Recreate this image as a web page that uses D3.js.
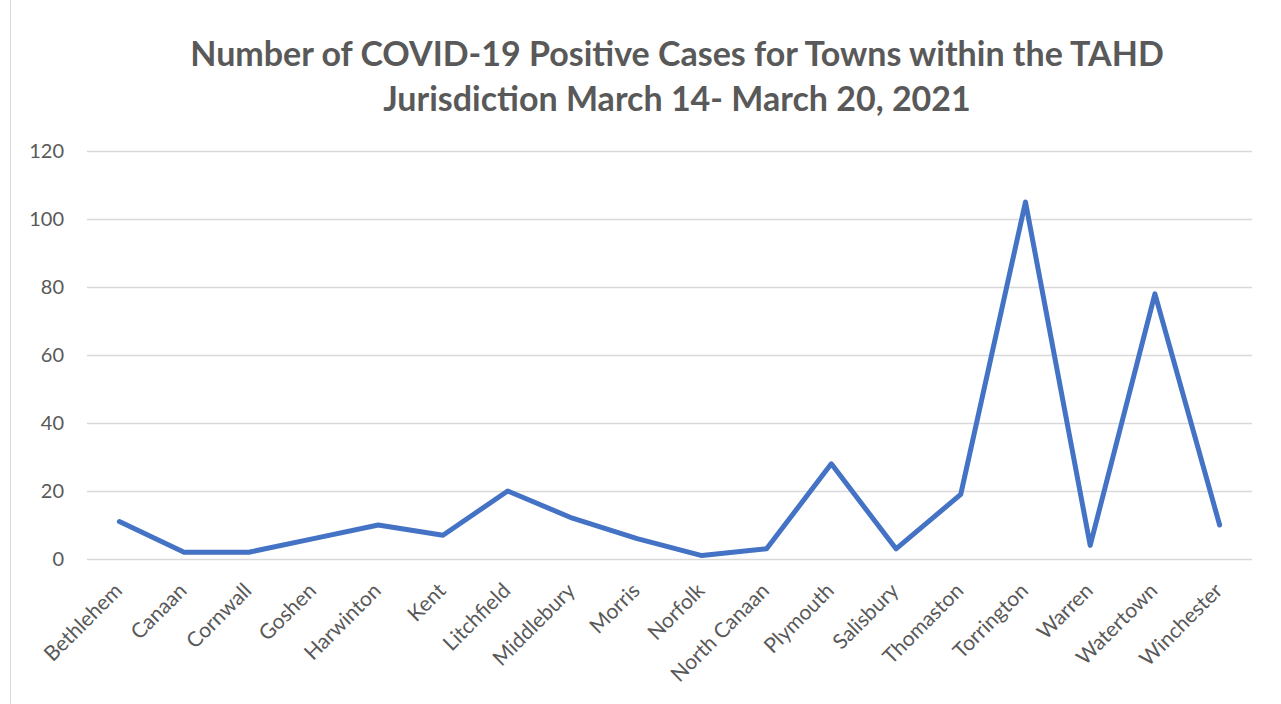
<!DOCTYPE html>
<html>
<head>
<meta charset="utf-8">
<script src="https://cdn.jsdelivr.net/npm/d3@7"></script>
<style>
body { margin: 0; background: #fff; }
svg { display: block; font-family: Lato, "Open Sans", sans-serif; }
</style>
</head>
<body>
<div id="chart"></div>
<script>
// towns and weekly positive cases
var towns = ["Bethlehem", "Canaan", "Cornwall", "Goshen", "Harwinton", "Kent",
  "Litchfield", "Middlebury", "Morris", "Norfolk", "North Canaan", "Plymouth",
  "Salisbury", "Thomaston", "Torrington", "Warren", "Watertown", "Winchester"];
var cases = [11, 2, 2, 6, 10, 7, 20, 12, 6, 1, 3, 28, 3, 19, 105, 4, 78, 10];
var yTicks = [0, 20, 40, 60, 80, 100, 120];
var titleLines = ["Number of COVID-19 Positive Cases for Towns within the TAHD",
  "Jurisdiction March 14- March 20, 2021"];

var width = 1281, height = 704;
var margin = {top: 151, right: 29, bottom: 145, left: 87};

var svg = d3.select("#chart").append("svg")
  .attr("width", width)
  .attr("height", height);

// chart frame
svg.append("rect")
  .attr("x", 10.5).attr("y", -1)
  .attr("width", width + 10).attr("height", height + 10)
  .attr("fill", "none")
  .attr("stroke", "#d9d9d9");

var x = d3.scaleBand().domain(towns)
  .range([margin.left, width - margin.right]);
var y = d3.scaleLinear().domain([0, 120])
  .range([height - margin.bottom, margin.top]);

// title
svg.append("g").selectAll("text")
  .data(titleLines)
  .join("text")
  .attr("x", 677)
  .attr("y", function (d, i) { return 66 + i * 45; })
  .attr("text-anchor", "middle")
  .attr("fill", "#595959")
  .attr("font-size", 34)
  .attr("font-weight", "bold")
  .text(function (d) { return d; });

// y axis with gridlines
var yAxis = svg.append("g")
  .attr("transform", "translate(" + margin.left + ",0)")
  .call(d3.axisLeft(y).tickValues(yTicks)
    .tickSize(-(width - margin.left - margin.right)).tickPadding(23));
yAxis.select(".domain").remove();
yAxis.selectAll(".tick line").attr("stroke", "#d9d9d9").attr("stroke-width", 1.3);
yAxis.selectAll(".tick text")
  .attr("fill", "#595959")
  .attr("font-size", 20)
  .attr("font-family", "Lato, sans-serif");

// x axis labels, rotated
var xAxis = svg.append("g")
  .attr("transform", "translate(0," + (height - margin.bottom) + ")")
  .call(d3.axisBottom(x).tickSize(0).tickPadding(0));
xAxis.select(".domain").remove();
xAxis.selectAll(".tick text")
  .attr("fill", "#595959")
  .attr("font-size", 21)
  .attr("font-family", "Lato, sans-serif")
  .attr("text-anchor", "end")
  .attr("dy", null)
  .attr("transform", "translate(4,33) rotate(-45)");

// the line
var line = d3.line()
  .x(function (d, i) { return x(towns[i]) + x.bandwidth() / 2; })
  .y(function (d) { return y(d); });

svg.append("path")
  .datum(cases)
  .attr("fill", "none")
  .attr("stroke", "#4472c4")
  .attr("stroke-width", 5)
  .attr("stroke-linejoin", "round")
  .attr("stroke-linecap", "round")
  .attr("d", line);
</script>
</body>
</html>
